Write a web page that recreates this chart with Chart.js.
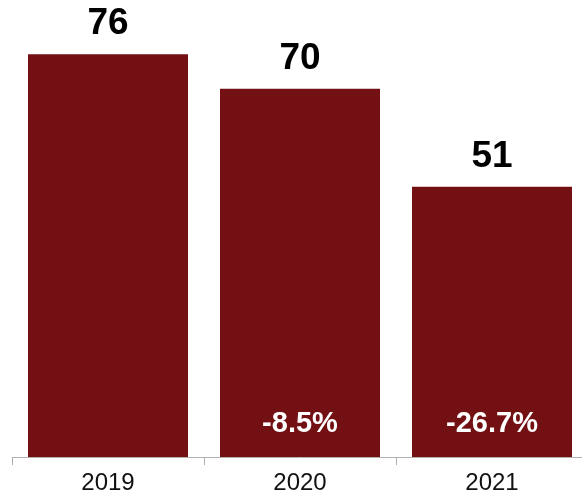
<!DOCTYPE html>
<html>
<head>
<meta charset="utf-8">
<script src="https://cdn.jsdelivr.net/npm/chart.js@4.4.0/dist/chart.umd.min.js"></script>
<style>
  html, body { margin: 0; padding: 0; background: #ffffff; overflow: hidden; }
  #wrap { position: absolute; left: 0; top: 0; width: 588px; height: 493px; }
</style>
</head>
<body>
<div id="wrap"><canvas id="c" width="588" height="493"></canvas></div>
<script>
const categories = ['2019', '2020', '2021'];
const values = [76, 69.5, 51];
const valueLabels = ['76', '70', '51'];
const changeLabels = ['', '-8.5%', '-26.7%'];

const FONT = '"Liberation Sans", Helvetica, Arial, sans-serif';
const BAR_COLOR = '#731014';

const labelPlugin = {
  id: 'labels',
  afterDatasetsDraw(chart) {
    const ctx = chart.ctx;
    const meta = chart.getDatasetMeta(0);
    ctx.save();
    ctx.textAlign = 'center';
    ctx.textBaseline = 'alphabetic';
    meta.data.forEach((bar, i) => {
      ctx.fillStyle = '#000000';
      ctx.font = 'bold 37px ' + FONT;
      ctx.fillText(valueLabels[i], bar.x, bar.y - 20);
      if (changeLabels[i]) {
        ctx.fillStyle = '#ffffff';
        ctx.font = 'bold 29px ' + FONT;
        ctx.fillText(changeLabels[i], bar.x, bar.base - 25);
      }
    });
    ctx.restore();
  }
};

new Chart(document.getElementById('c'), {
  type: 'bar',
  data: {
    labels: categories,
    datasets: [{
      data: values,
      backgroundColor: BAR_COLOR,
      borderWidth: 0,
      categoryPercentage: 1.0,
      barPercentage: 0.8333
    }]
  },
  options: {
    responsive: false,
    animation: false,
    layout: { padding: { left: 12, right: 0, top: 0, bottom: 0 } },
    plugins: { legend: { display: false }, tooltip: { enabled: false } },
    scales: {
      x: {
        offset: true,
        grid: { display: true, drawOnChartArea: false, drawTicks: true, tickLength: 8, color: '#b0b0b0', offset: true },
        border: { display: true, color: '#b0b0b0', width: 1 },
        ticks: { color: '#111111', font: { family: FONT, size: 24 }, padding: 4, maxRotation: 0 },
        afterFit(scale) { scale.height = 36; }
      },
      y: {
        display: false,
        min: 0,
        max: 86.25
      }
    }
  },
  plugins: [labelPlugin]
});
</script>
</body>
</html>
